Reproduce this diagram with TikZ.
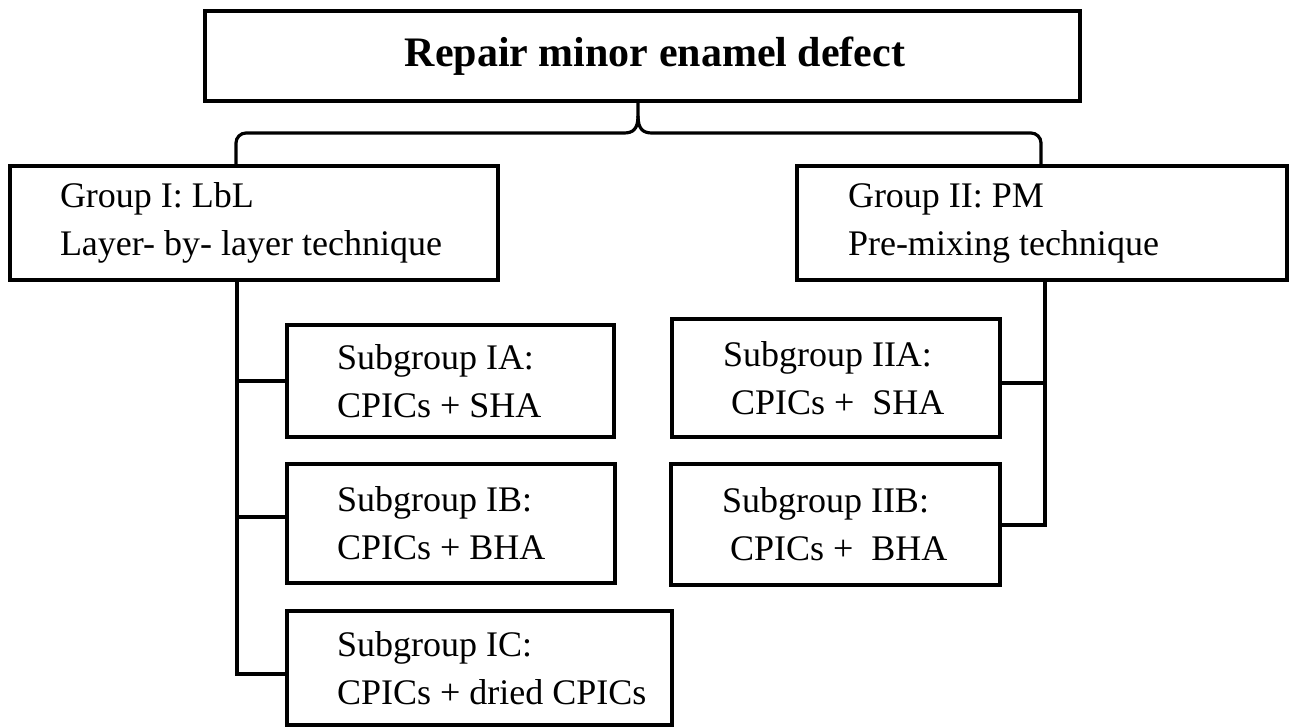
\documentclass[tikz,border=0pt]{standalone}
\usepackage{fontspec}
\setmainfont{Liberation Serif}
\begin{document}
\begin{tikzpicture}[x=0.5pt,y=-0.5pt,line width=1.6pt,
  box/.style={draw,line width=1.6pt,inner sep=0pt,rectangle},
  lbl/.style={inner sep=0pt,align=left,anchor=west,
    font=\fontsize{18}{24}\selectfont},
  title/.style={inner sep=0pt,font=\fontsize{21}{25}\selectfont\bfseries}]
\useasboundingbox (0,0) rectangle (1293,727);

% top box
\node[box,minimum width=437.5pt,minimum height=45pt] (top) at (642.5,56) {};
\node[title] (ttl) at (655,56) {Repair minor enamel defect};

% groups
\node[box,minimum width=244pt,minimum height=57pt] (g1) at (254,223) {};
\node[lbl] (g1t) at ([xshift=25pt]g1.west) {Group I: LbL\\Layer- by- layer technique};
\node[box,minimum width=245pt,minimum height=57pt] (g2) at (1042,223) {};
\node[lbl] (g2t) at ([xshift=25.5pt]g2.west) {Group II: PM\\Pre-mixing technique};

% subgroups of group I
\node[box,minimum width=163.5pt,minimum height=56pt] (ia) at (450.5,381) {};
\node[lbl] (iat) at ([xshift=25pt]ia.west) {Subgroup IA:\\CPICs + SHA};
\node[box,minimum width=164pt,minimum height=59.5pt] (ib) at (451,523.5) {};
\node[lbl] (ibt) at ([xshift=25pt]ib.west) {Subgroup IB:\\CPICs + BHA};
\node[box,minimum width=192.5pt,minimum height=57pt] (ic) at (479.5,668) {};
\node[lbl] (ict) at ([xshift=25pt]ic.west) {Subgroup IC:\\CPICs + dried CPICs};

% subgroups of group II
\node[box,minimum width=164pt,minimum height=59pt] (iia) at (836,378) {};
\node[lbl] (iiat) at ([xshift=25.5pt]iia.west) {Subgroup IIA:\\\hspace*{4pt}CPICs +\ \ SHA};
\node[box,minimum width=164.5pt,minimum height=60.5pt] (iib) at (835.5,524.5) {};
\node[lbl] (iibt) at ([xshift=25.5pt]iib.west) {Subgroup IIB:\\\hspace*{4pt}CPICs +\ \ BHA};

% brace joining the top box to both groups
\coordinate (bc) at (638,116);
\coordinate (bml) at (624,133);
\coordinate (bmr) at (652,133);
\coordinate (bl) at (236,133);
\coordinate (br) at (1041,133);
\draw (top.south -| bc) -- (bc) .. controls (638,129) and (633,133) .. (bml)
  [rounded corners=5pt] -- (bl) -- (g1.north -| bl);
\draw (bc) .. controls (638,129) and (643,133) .. (bmr)
  [rounded corners=5pt] -- (br) -- (g2.north -| br);

% left stem and its ticks
\coordinate (ls) at (237,674);
\coordinate (lb) at (237,517);
\draw (g1.south -| ls) -- (ls) -- (ls -| ic.west);
\draw (ia.west -| ls) -- (ia.west);
\draw (lb) -- (lb -| ib.west);

% right stem and its ticks
\coordinate (rs) at (1045,525);
\coordinate (ra) at (1045,383);
\draw (g2.south -| rs) -- (rs) -- (rs -| iib.east);
\draw (ra) -- (ra -| iia.east);
\end{tikzpicture}
\end{document}
